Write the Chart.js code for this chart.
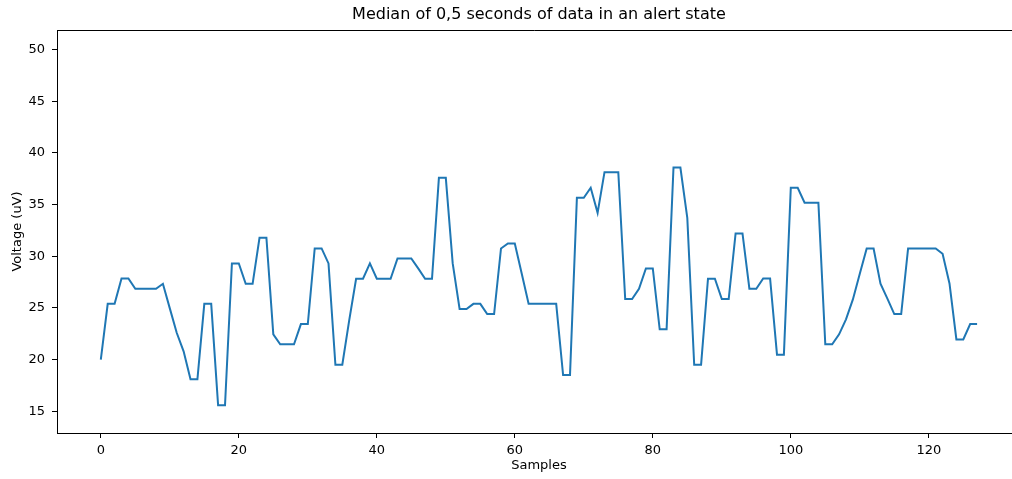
<!DOCTYPE html>
<html>
<head>
<meta charset="utf-8">
<script src="https://cdn.jsdelivr.net/npm/chart.js@4.4.1/dist/chart.umd.min.js"></script>
<style>
  html, body { margin: 0; padding: 0; background: #fff; overflow: hidden; }
  canvas { display: block; }
</style>
</head>
<body>
<canvas id="chart" width="1012" height="479"></canvas>
<script>
// Median voltage (uV) per 0.5 s window, one value per sample index
const voltage = [
  20.0, 25.4, 25.4, 27.85, 27.85, 26.86, 26.86, 26.86, 26.86, 27.34,
  24.96, 22.6, 20.8, 18.1, 18.1, 25.4, 25.4, 15.58, 15.58, 29.31,
  29.31, 27.34, 27.34, 31.79, 31.79, 22.45, 21.48, 21.48, 21.48, 23.44,
  23.44, 30.76, 30.76, 29.31, 19.51, 19.51, 23.8, 27.83, 27.83, 29.31,
  27.83, 27.83, 27.83, 29.79, 29.79, 29.79, 28.83, 27.83, 27.83, 37.59,
  37.59, 29.31, 24.9, 24.9, 25.4, 25.4, 24.41, 24.41, 30.76, 31.24,
  31.24, 28.34, 25.4, 25.4, 25.4, 25.4, 25.4, 18.51, 18.51, 35.66,
  35.66, 36.63, 34.21, 38.14, 38.14, 38.14, 25.86, 25.86, 26.86, 28.83,
  28.83, 22.93, 22.93, 38.59, 38.59, 33.72, 19.51, 19.51, 27.83, 27.83,
  25.86, 25.86, 32.21, 32.21, 26.86, 26.86, 27.85, 27.85, 20.48, 20.48,
  36.63, 36.63, 35.18, 35.18, 35.18, 21.48, 21.48, 22.45, 23.9, 25.83,
  28.31, 30.76, 30.76, 27.34, 25.9, 24.41, 24.41, 30.76, 30.76, 30.76,
  30.76, 30.76, 30.24, 27.37, 21.96, 21.96, 23.44, 23.44
];

const xTicks = [0, 20, 40, 60, 80, 100, 120];
const yTicks = [15, 20, 25, 30, 35, 40, 45, 50];

const titleText = 'Median of 0,5 seconds of data in an alert state';
const xTitle = 'Samples';
const yTitle = 'Voltage (uV)';

const FONT = "'DejaVu Sans', sans-serif";
const points = voltage.map((v, i) => ({ x: i, y: v }));

// Full horizontal extent of the axes (the right part runs past the canvas)
const X_MIN = -6.35, X_SPAN_MAX = 133.35;

// Top spine, plus the title and x label centred on the full axes width
const frame = {
  id: 'frame',
  afterDraw(chart) {
    const { ctx, chartArea: a } = chart;
    ctx.save();
    ctx.strokeStyle = '#000';
    ctx.lineWidth = 1;
    ctx.beginPath();
    ctx.moveTo(Math.round(a.left) + 0.5, Math.round(a.top) + 0.5);
    ctx.lineTo(a.right, Math.round(a.top) + 0.5);
    ctx.stroke();

    const cx = chart.scales.x.getPixelForValue((X_MIN + X_SPAN_MAX) / 2);
    ctx.fillStyle = '#000';
    ctx.textAlign = 'center';
    ctx.textBaseline = 'middle';
    ctx.font = "16px " + FONT;
    ctx.fillText(titleText, cx, 15);
    ctx.font = "13px " + FONT;
    ctx.fillText(xTitle, cx, 466);
    ctx.restore();
  }
};

new Chart(document.getElementById('chart'), {
  type: 'line',
  data: {
    datasets: [{
      data: points,
      borderColor: '#1f77b4',
      borderWidth: 2,
      pointRadius: 0,
      tension: 0,
      fill: false
    }]
  },
  options: {
    responsive: false,
    animation: false,
    layout: { padding: { left: 0, right: 0, top: 30, bottom: 0 } },
    plugins: {
      legend: { display: false },
      tooltip: { enabled: false },
      title: { display: false }
    },
    scales: {
      x: {
        type: 'linear',
        min: X_MIN,
        max: 132.06,
        afterBuildTicks: s => { s.ticks = xTicks.map(v => ({ value: v })); },
        afterFit: s => { s.height = 46; },
        grid: { drawOnChartArea: false, drawTicks: true, tickLength: 5, color: '#000', tickWidth: 1 },
        border: { display: true, color: '#000', width: 1 },
        ticks: { color: '#000', font: { family: FONT, size: 13 }, padding: 5, maxRotation: 0 },
        title: { display: false }
      },
      y: {
        type: 'linear',
        min: 12.9,
        max: 51.9,
        afterBuildTicks: s => { s.ticks = yTicks.map(v => ({ value: v })); },
        afterFit: s => { s.width = 57; },
        grid: { drawOnChartArea: false, drawTicks: true, tickLength: 5, color: '#000', tickWidth: 1 },
        border: { display: true, color: '#000', width: 1 },
        ticks: { color: '#000', font: { family: FONT, size: 13 }, padding: 7 },
        title: { display: true, text: yTitle, color: '#000', font: { family: FONT, size: 13 }, padding: { top: 10, bottom: 0 } }
      }
    }
  },
  plugins: [frame]
});
</script>
</body>
</html>
